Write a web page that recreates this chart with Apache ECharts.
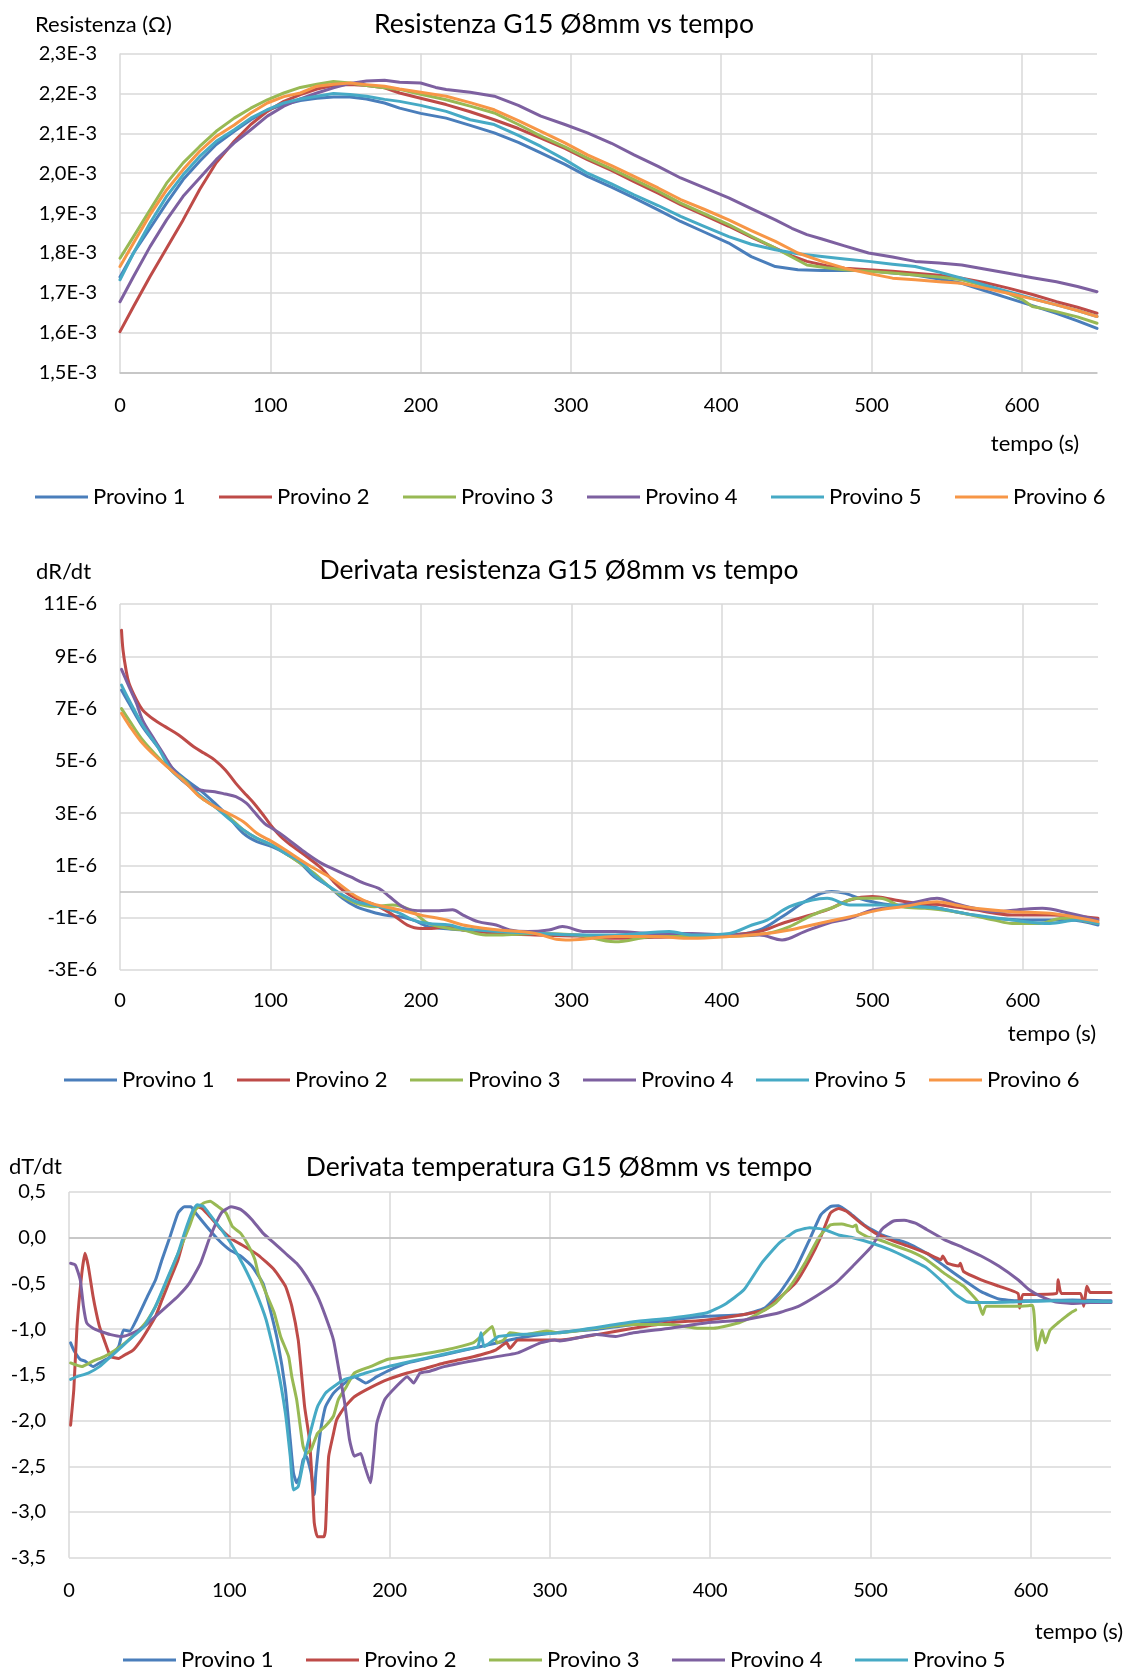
<!DOCTYPE html>
<html>
<head>
<meta charset="utf-8">
<script src="https://cdn.jsdelivr.net/npm/echarts@6/dist/echarts.min.js"></script>
<style>
  html, body { margin: 0; padding: 0; background: #ffffff; }
  #chart { width: 1134px; height: 1674px; }
</style>
</head>
<body>
<div id="chart"></div>
<script>
// Specimen names and their line colours
const provini = ['Provino 1', 'Provino 2', 'Provino 3', 'Provino 4', 'Provino 5', 'Provino 6'];
const colori = ['#4a7ebb', '#be4b48', '#98b954', '#7d60a0', '#46aac5', '#f79646'];

// Time axis ticks (s)
const tempoTicks = [0, 100, 200, 300, 400, 500, 600];

// ---- Resistance vs time: [t (s), R (in units of 1E-3 ohm)] ----
const resistenza1 = [[0,1.740],[9,1.800],[20,1.862],[31,1.925],[42,1.984],[53,2.030],[64,2.072],[76,2.105],[87,2.134],[98,2.158],[109,2.172],[120,2.182],[131,2.188],[142,2.191],[153,2.191],[164,2.186],[176,2.176],[186,2.163],[200,2.150],[217,2.138],[233,2.120],[249,2.101],[265,2.077],[280,2.051],[296,2.022],[311,1.992],[327,1.965],[342,1.938],[358,1.908],[373,1.879],[389,1.852],[405,1.825],[420,1.791],[436,1.766],[451,1.758],[467,1.756],[482,1.756],[498,1.756],[514,1.750],[529,1.745],[545,1.735],[560,1.724],[575,1.706],[591,1.687],[607,1.668],[623,1.649],[637,1.630],[650,1.611]];
const resistenza2 = [[0,1.603],[9,1.666],[20,1.741],[31,1.812],[42,1.883],[53,1.959],[64,2.026],[76,2.080],[87,2.122],[98,2.155],[109,2.180],[120,2.197],[131,2.211],[142,2.220],[153,2.222],[164,2.220],[176,2.214],[186,2.201],[200,2.188],[217,2.172],[233,2.154],[249,2.134],[265,2.112],[280,2.088],[296,2.062],[311,2.034],[327,2.007],[342,1.979],[358,1.950],[373,1.921],[389,1.894],[405,1.867],[420,1.840],[436,1.812],[447,1.793],[457,1.779],[470,1.768],[482,1.762],[498,1.758],[514,1.754],[529,1.749],[545,1.744],[560,1.737],[575,1.726],[591,1.712],[607,1.696],[623,1.678],[637,1.664],[650,1.649]];
const resistenza3 = [[0,1.787],[9,1.841],[20,1.908],[31,1.975],[42,2.026],[53,2.067],[64,2.105],[76,2.138],[87,2.163],[98,2.184],[109,2.201],[120,2.215],[131,2.223],[142,2.230],[153,2.226],[164,2.220],[176,2.214],[186,2.210],[200,2.198],[217,2.184],[233,2.168],[249,2.151],[265,2.122],[280,2.093],[296,2.066],[311,2.038],[327,2.011],[342,1.984],[358,1.955],[373,1.925],[389,1.898],[405,1.871],[420,1.842],[436,1.812],[447,1.790],[457,1.770],[470,1.763],[482,1.758],[498,1.754],[514,1.750],[529,1.745],[545,1.740],[560,1.733],[575,1.718],[591,1.699],[600,1.684],[607,1.666],[615,1.660],[623,1.653],[637,1.640],[650,1.624]];
const resistenza4 = [[0,1.678],[9,1.741],[20,1.816],[31,1.883],[42,1.942],[53,1.988],[64,2.034],[76,2.076],[87,2.109],[98,2.143],[109,2.168],[120,2.186],[131,2.201],[142,2.214],[153,2.225],[164,2.231],[176,2.233],[186,2.228],[200,2.226],[210,2.215],[217,2.210],[233,2.203],[249,2.193],[265,2.170],[280,2.143],[296,2.122],[311,2.101],[327,2.075],[342,2.046],[358,2.017],[373,1.988],[389,1.963],[405,1.938],[420,1.911],[436,1.883],[447,1.862],[457,1.846],[467,1.835],[482,1.818],[498,1.800],[514,1.790],[529,1.779],[545,1.775],[560,1.770],[575,1.760],[591,1.749],[607,1.738],[623,1.728],[637,1.716],[650,1.703]];
const resistenza5 = [[0,1.733],[9,1.800],[20,1.875],[31,1.942],[42,1.996],[53,2.042],[64,2.080],[76,2.109],[87,2.138],[98,2.159],[109,2.176],[120,2.186],[131,2.193],[142,2.200],[153,2.197],[164,2.193],[176,2.185],[186,2.180],[200,2.170],[217,2.155],[233,2.134],[249,2.122],[265,2.095],[280,2.067],[296,2.034],[311,2.000],[327,1.973],[342,1.946],[358,1.919],[373,1.892],[389,1.866],[405,1.841],[420,1.822],[436,1.808],[451,1.798],[467,1.791],[482,1.785],[498,1.779],[514,1.772],[529,1.766],[545,1.752],[560,1.737],[575,1.720],[591,1.703],[607,1.686],[623,1.670],[637,1.656],[650,1.641]];
const resistenza6 = [[0,1.766],[9,1.825],[20,1.896],[31,1.958],[42,2.009],[53,2.055],[64,2.092],[76,2.121],[87,2.151],[98,2.176],[109,2.192],[120,2.201],[131,2.218],[142,2.223],[153,2.226],[164,2.222],[176,2.218],[186,2.211],[200,2.203],[217,2.193],[233,2.177],[249,2.159],[265,2.132],[280,2.105],[296,2.076],[311,2.046],[327,2.019],[342,1.992],[358,1.963],[373,1.934],[389,1.909],[405,1.883],[420,1.856],[436,1.829],[451,1.800],[467,1.779],[482,1.762],[498,1.749],[514,1.737],[529,1.733],[545,1.728],[560,1.724],[575,1.712],[591,1.699],[607,1.685],[623,1.670],[637,1.656],[650,1.641]];

// ---- Resistance derivative: [t (s), dR/dt (in units of 1E-6)] ----
const derivataR1 = [[1,7.71],[6,7.20],[15,6.31],[25,5.54],[34,4.78],[44,4.27],[53,3.89],[63,3.38],[72,2.87],[82,2.23],[91,1.91],[101,1.72],[110,1.46],[120,1.08],[129,0.57],[139,0.19],[148,-0.26],[157,-0.58],[167,-0.77],[176,-0.90],[186,-0.96],[195,-1.09],[205,-1.34],[228,-1.47],[252,-1.53],[276,-1.60],[304,-1.66],[329,-1.72],[355,-1.70],[380,-1.66],[405,-1.66],[425,-1.47],[440,-0.96],[455,-0.39],[466,-0.07],[473,0.00],[482,-0.07],[495,-0.32],[515,-0.51],[530,-0.51],[555,-0.77],[581,-1.02],[606,-1.09],[631,-1.09],[650,-1.28]];
const derivataR2 = [[1,10.0],[2,9.24],[4,8.48],[6,7.97],[11,7.33],[15,6.95],[23,6.56],[30,6.31],[39,5.99],[49,5.54],[56,5.29],[63,5.03],[70,4.65],[77,4.14],[84,3.69],[89,3.38],[96,2.87],[101,2.48],[108,2.04],[115,1.72],[124,1.34],[134,0.89],[141,0.44],[148,0.06],[157,-0.26],[167,-0.45],[176,-0.70],[183,-0.96],[191,-1.28],[200,-1.41],[207,-1.41],[217,-1.34],[228,-1.47],[252,-1.60],[276,-1.66],[304,-1.70],[329,-1.79],[355,-1.75],[380,-1.72],[405,-1.66],[425,-1.53],[440,-1.22],[455,-0.96],[470,-0.70],[485,-0.32],[500,-0.19],[515,-0.32],[530,-0.45],[546,-0.51],[568,-0.70],[593,-0.90],[618,-0.90],[650,-1.02]];
const derivataR3 = [[1,7.00],[6,6.56],[15,5.80],[25,5.16],[34,4.65],[44,4.20],[53,3.63],[63,3.25],[72,2.87],[82,2.36],[91,2.04],[101,1.78],[110,1.46],[120,1.08],[129,0.70],[139,0.19],[148,-0.19],[157,-0.45],[169,-0.58],[181,-0.51],[193,-0.70],[205,-1.22],[219,-1.41],[228,-1.47],[243,-1.66],[252,-1.66],[276,-1.60],[304,-1.66],[329,-1.92],[355,-1.72],[380,-1.72],[405,-1.72],[430,-1.60],[445,-1.34],[460,-0.90],[475,-0.58],[490,-0.26],[505,-0.26],[520,-0.58],[535,-0.64],[555,-0.77],[581,-1.09],[593,-1.22],[611,-1.22],[626,-1.02],[650,-1.22]];
const derivataR4 = [[1,8.50],[6,7.84],[11,7.20],[15,6.56],[23,5.80],[30,5.16],[34,4.78],[41,4.27],[49,3.95],[56,3.86],[63,3.82],[70,3.73],[77,3.63],[84,3.38],[89,3.06],[96,2.61],[101,2.42],[108,2.16],[115,1.85],[124,1.46],[134,1.08],[143,0.83],[153,0.57],[162,0.32],[172,0.12],[179,-0.19],[186,-0.51],[193,-0.70],[200,-0.73],[212,-0.73],[221,-0.70],[228,-0.90],[238,-1.15],[250,-1.28],[259,-1.47],[271,-1.53],[285,-1.47],[294,-1.34],[309,-1.53],[329,-1.53],[355,-1.60],[380,-1.60],[405,-1.66],[425,-1.66],[440,-1.85],[455,-1.53],[470,-1.22],[485,-1.02],[500,-0.70],[515,-0.58],[530,-0.39],[543,-0.26],[555,-0.45],[568,-0.64],[581,-0.77],[596,-0.70],[613,-0.64],[631,-0.83],[650,-1.09]];
const derivataR5 = [[1,7.90],[6,7.33],[15,6.37],[25,5.54],[34,4.65],[44,4.14],[53,3.69],[63,3.25],[72,2.80],[82,2.36],[91,2.04],[101,1.78],[110,1.46],[120,1.14],[129,0.63],[139,0.19],[148,-0.13],[157,-0.39],[167,-0.51],[176,-0.64],[186,-0.83],[195,-1.09],[205,-1.22],[219,-1.28],[228,-1.41],[252,-1.53],[279,-1.60],[304,-1.66],[329,-1.66],[365,-1.53],[380,-1.66],[405,-1.60],[420,-1.28],[430,-1.09],[445,-0.58],[460,-0.32],[470,-0.26],[485,-0.51],[505,-0.51],[530,-0.58],[543,-0.64],[568,-0.90],[593,-1.09],[618,-1.22],[636,-1.09],[650,-1.22]];
const derivataR6 = [[1,6.82],[6,6.37],[15,5.67],[25,5.10],[34,4.65],[44,4.14],[53,3.63],[63,3.25],[72,2.99],[82,2.67],[91,2.23],[101,1.91],[110,1.59],[120,1.21],[129,0.89],[139,0.57],[148,0.19],[157,-0.19],[167,-0.45],[176,-0.58],[186,-0.70],[200,-0.90],[217,-1.09],[228,-1.28],[243,-1.41],[252,-1.47],[276,-1.60],[290,-1.82],[299,-1.85],[329,-1.72],[355,-1.72],[380,-1.79],[405,-1.72],[430,-1.60],[445,-1.47],[460,-1.28],[475,-1.09],[490,-0.90],[505,-0.70],[520,-0.58],[543,-0.39],[555,-0.51],[568,-0.64],[593,-0.77],[618,-0.83],[650,-1.15]];

// ---- Temperature derivative: [t (s), dT/dt] ----
const derivataT1 = [[1,-1.15],[3,-1.23],[7,-1.33],[10,-1.35],[15,-1.41],[19,-1.37],[26,-1.30],[31,-1.19],[34,-1.01],[38,-1.02],[42,-0.90],[49,-0.64],[54,-0.46],[58,-0.24],[63,0.01],[68,0.27],[72,0.34],[76,0.34],[79,0.27],[86,0.12],[93,-0.02],[100,-0.13],[107,-0.20],[114,-0.31],[121,-0.50],[125,-0.75],[130,-1.12],[135,-1.66],[138,-2.21],[140,-2.57],[142,-2.68],[144,-2.61],[146,-2.43],[148,-2.39],[151,-2.57],[153,-2.81],[154,-2.57],[157,-2.10],[160,-1.85],[165,-1.70],[172,-1.59],[178,-1.52],[185,-1.59],[192,-1.52],[201,-1.44],[211,-1.37],[234,-1.28],[257,-1.19],[280,-1.10],[303,-1.04],[330,-1.00],[352,-0.95],[375,-0.90],[398,-0.86],[421,-0.84],[434,-0.77],[443,-0.61],[453,-0.35],[462,-0.02],[469,0.25],[475,0.34],[480,0.35],[487,0.27],[496,0.14],[507,0.03],[523,-0.06],[535,-0.17],[546,-0.31],[558,-0.46],[569,-0.59],[580,-0.67],[592,-0.69],[603,-0.69],[626,-0.68],[650,-0.69]];
const derivataT2 = [[1,-2.05],[3,-1.66],[5,-0.97],[8,-0.39],[10,-0.17],[12,-0.31],[15,-0.64],[17,-0.82],[19,-0.97],[22,-1.12],[26,-1.30],[31,-1.32],[35,-1.28],[40,-1.23],[45,-1.12],[49,-1.01],[54,-0.86],[58,-0.68],[63,-0.46],[68,-0.24],[72,0.01],[77,0.27],[79,0.34],[83,0.32],[88,0.23],[95,0.09],[102,-0.02],[109,-0.09],[118,-0.19],[128,-0.35],[135,-0.53],[139,-0.75],[143,-1.12],[145,-1.48],[147,-1.85],[150,-2.21],[152,-2.76],[153,-3.12],[155,-3.27],[159,-3.27],[160,-3.19],[161,-2.76],[162,-2.39],[165,-2.14],[167,-1.99],[172,-1.85],[178,-1.74],[188,-1.64],[199,-1.55],[211,-1.48],[222,-1.43],[234,-1.37],[245,-1.33],[257,-1.28],[266,-1.23],[273,-1.15],[275,-1.21],[280,-1.12],[292,-1.12],[306,-1.12],[329,-1.06],[352,-0.99],[375,-0.93],[398,-0.90],[421,-0.84],[434,-0.79],[443,-0.66],[453,-0.50],[462,-0.24],[469,0.01],[475,0.27],[480,0.32],[485,0.29],[494,0.16],[503,0.05],[512,-0.02],[523,-0.09],[535,-0.17],[544,-0.24],[545,-0.20],[548,-0.28],[555,-0.31],[556,-0.28],[558,-0.37],[569,-0.46],[580,-0.53],[592,-0.61],[593,-0.77],[595,-0.62],[603,-0.62],[616,-0.61],[617,-0.46],[619,-0.61],[631,-0.61],[633,-0.75],[635,-0.53],[637,-0.60],[650,-0.60]];
const derivataT3 = [[1,-1.37],[8,-1.41],[15,-1.35],[22,-1.30],[28,-1.24],[35,-1.15],[42,-1.04],[49,-0.90],[56,-0.68],[63,-0.39],[70,-0.09],[75,0.12],[79,0.31],[84,0.38],[88,0.40],[93,0.34],[98,0.27],[102,0.12],[107,0.05],[112,-0.09],[116,-0.24],[118,-0.39],[123,-0.61],[128,-0.82],[132,-1.08],[137,-1.30],[139,-1.52],[142,-1.77],[144,-2.03],[146,-2.28],[148,-2.36],[151,-2.32],[155,-2.14],[160,-2.06],[165,-1.95],[168,-1.77],[173,-1.63],[178,-1.48],[188,-1.41],[199,-1.33],[211,-1.30],[234,-1.23],[252,-1.15],[257,-1.08],[264,-0.97],[267,-1.15],[271,-1.12],[275,-1.04],[285,-1.06],[298,-1.02],[306,-1.04],[329,-0.99],[352,-0.95],[375,-0.95],[393,-0.99],[402,-0.99],[418,-0.93],[429,-0.84],[441,-0.71],[450,-0.53],[459,-0.28],[468,0.01],[475,0.14],[482,0.15],[489,0.12],[491,0.14],[492,0.07],[498,0.01],[505,-0.02],[514,-0.08],[525,-0.15],[535,-0.24],[546,-0.39],[558,-0.53],[567,-0.70],[570,-0.84],[572,-0.75],[580,-0.75],[592,-0.75],[601,-0.74],[603,-1.12],[604,-1.23],[607,-1.01],[609,-1.15],[612,-1.01],[617,-0.93],[622,-0.86],[625,-0.82],[628,-0.79]];
const derivataT4 = [[1,-0.28],[4,-0.30],[7,-0.46],[9,-0.75],[11,-0.93],[15,-0.99],[19,-1.02],[26,-1.06],[33,-1.08],[40,-1.04],[47,-0.97],[54,-0.86],[61,-0.75],[68,-0.64],[75,-0.50],[82,-0.28],[88,0.01],[95,0.27],[101,0.34],[107,0.31],[114,0.20],[121,0.05],[128,-0.06],[135,-0.17],[142,-0.28],[148,-0.42],[155,-0.64],[160,-0.86],[165,-1.12],[168,-1.41],[172,-1.81],[175,-2.21],[178,-2.39],[182,-2.36],[184,-2.47],[188,-2.68],[190,-2.39],[192,-2.03],[197,-1.77],[204,-1.63],[211,-1.52],[215,-1.59],[219,-1.48],[225,-1.46],[234,-1.41],[257,-1.33],[280,-1.26],[294,-1.15],[303,-1.12],[306,-1.13],[329,-1.06],[341,-1.08],[352,-1.04],[375,-0.99],[398,-0.93],[421,-0.90],[443,-0.82],[455,-0.75],[466,-0.64],[478,-0.50],[489,-0.31],[501,-0.09],[507,0.09],[514,0.18],[521,0.19],[528,0.16],[535,0.09],[546,-0.02],[558,-0.11],[569,-0.20],[580,-0.31],[592,-0.46],[599,-0.57],[606,-0.64],[615,-0.70],[626,-0.72],[637,-0.71],[650,-0.71]];
const derivataT5 = [[1,-1.55],[5,-1.52],[12,-1.48],[19,-1.41],[26,-1.30],[33,-1.19],[40,-1.08],[47,-0.97],[54,-0.75],[61,-0.46],[68,-0.17],[72,0.05],[77,0.29],[80,0.36],[84,0.34],[88,0.25],[95,0.09],[102,-0.09],[109,-0.31],[116,-0.57],[123,-0.90],[130,-1.41],[135,-1.92],[138,-2.39],[140,-2.76],[143,-2.72],[146,-2.47],[151,-2.10],[155,-1.85],[160,-1.70],[165,-1.63],[172,-1.55],[178,-1.52],[185,-1.48],[199,-1.41],[222,-1.32],[245,-1.23],[255,-1.19],[257,-1.04],[259,-1.19],[268,-1.08],[280,-1.06],[306,-1.04],[352,-0.92],[375,-0.88],[398,-0.82],[409,-0.73],[421,-0.57],[432,-0.28],[443,-0.06],[453,0.07],[462,0.11],[471,0.09],[480,0.03],[489,0.00],[501,-0.06],[512,-0.13],[523,-0.22],[535,-0.33],[546,-0.50],[553,-0.62],[560,-0.70],[569,-0.71],[592,-0.70],[615,-0.69],[650,-0.70]];

const resistenzaSerie = [resistenza1, resistenza2, resistenza3, resistenza4, resistenza5, resistenza6];
const derivataRSerie = [derivataR1, derivataR2, derivataR3, derivataR4, derivataR5, derivataR6];
const derivataTSerie = [derivataT1, derivataT2, derivataT3, derivataT4, derivataT5];

const FONT = 'Lato';
const TXT = '#000000';
const GRID_COL = '#d9d9d9';
const AXIS_COL = '#bfbfbf';
const TICK_SIZE = 20;   // tick labels
const TEXT_SIZE = 22;   // legend, axis names
const TITLE_SIZE = 26.5;

function lineSeries(sets, idx, smooth) {
  return sets.map((d, i) => ({
    type: 'line',
    name: provini[i],
    xAxisIndex: idx,
    yAxisIndex: idx,
    data: d,
    symbol: 'none',
    showSymbol: false,
    smooth: smooth,
    clip: true,
    z: 3,
    itemStyle: { color: colori[i] },
    lineStyle: { color: colori[i], width: 3, cap: 'round', join: 'round' }
  }));
}

// Horizontal axis line through zero, drawn under the curves
function zeroLine(idx) {
  return {
    type: 'line', xAxisIndex: idx, yAxisIndex: idx, data: [], silent: true, z: 2,
    markLine: {
      silent: true, symbol: 'none', animation: false,
      label: { show: false },
      lineStyle: { color: AXIS_COL, width: 1.5, type: 'solid' },
      data: [{ yAxis: 0 }]
    }
  };
}

function xAxisDef(idx, margin, showLine) {
  return {
    type: 'value', gridIndex: idx, min: 0, max: 650, interval: 100,
    axisLine: { show: showLine, onZero: false, lineStyle: { color: AXIS_COL, width: 1.5 } },
    axisTick: { show: false },
    axisLabel: {
      margin: margin, fontFamily: FONT, fontSize: TICK_SIZE, color: TXT,
      showMaxLabel: false,
      formatter: v => (tempoTicks.indexOf(v) >= 0 ? String(v) : '')
    },
    splitLine: { show: true, showMaxLine: false, lineStyle: { color: GRID_COL, width: 1.5 } }
  };
}

function yAxisDef(idx, min, max, interval, fmt) {
  return {
    type: 'value', gridIndex: idx, min: min, max: max, interval: interval,
    axisLine: { show: false }, axisTick: { show: false },
    axisLabel: { margin: 23, fontFamily: FONT, fontSize: TICK_SIZE, color: TXT, formatter: fmt },
    splitLine: { show: true, lineStyle: { color: GRID_COL, width: 1.5 } }
  };
}

function textAt(text, x, y, size, align) {
  return {
    text: text, left: x, top: y, padding: 0,
    textAlign: align, textVerticalAlign: 'middle',
    textStyle: { fontFamily: FONT, fontSize: size, fontWeight: 'normal', color: TXT }
  };
}

function legendRow(names, startX, step, cy) {
  return names.map((n, i) => ({
    data: [n], left: startX + i * step, top: cy - 13, padding: 0, itemGap: 0,
    icon: 'rect', itemWidth: 53, itemHeight: 3,
    selectedMode: false,
    textStyle: { fontFamily: FONT, fontSize: TEXT_SIZE, color: TXT, lineHeight: 26 }
  }));
}

const option = {
  animation: false,
  backgroundColor: '#ffffff',
  title: [
    textAt('Resistenza G15 Ø8mm vs tempo', 564, 24, TITLE_SIZE, 'center'),
    textAt('Resistenza (Ω)', 35, 25, TEXT_SIZE, 'left'),
    textAt('tempo (s)', 1035, 444, TEXT_SIZE, 'center'),
    textAt('Derivata resistenza G15 Ø8mm vs tempo', 559, 570, TITLE_SIZE, 'center'),
    textAt('dR/dt', 36, 572, TEXT_SIZE, 'left'),
    textAt('tempo (s)', 1052, 1034, TEXT_SIZE, 'center'),
    textAt('Derivata temperatura G15 Ø8mm vs tempo', 559, 1167, TITLE_SIZE, 'center'),
    textAt('dT/dt', 9, 1167, TEXT_SIZE, 'left'),
    textAt('tempo (s)', 1079, 1632, TEXT_SIZE, 'center')
  ],
  legend: []
    .concat(legendRow(provini, 35, 184, 497))
    .concat(legendRow(provini, 64, 173, 1080))
    .concat(legendRow(provini.slice(0, 5), 123, 183, 1660)),
  grid: [
    { left: 120, top: 53.5, width: 977, height: 319.2 },
    { left: 120, top: 604, width: 978, height: 366 },
    { left: 69, top: 1192, width: 1042, height: 365.7 }
  ],
  xAxis: [xAxisDef(0, 23, true), xAxisDef(1, 20.5, false), xAxisDef(2, 23, false)],
  yAxis: [
    yAxisDef(0, 1.5, 2.3, 0.1, v => v.toFixed(1).replace('.', ',') + 'E-3'),
    yAxisDef(1, -3, 11, 2, v => Math.round(v) + 'E-6'),
    yAxisDef(2, -3.5, 0.5, 0.5, v => v.toFixed(1).replace('.', ','))
  ],
  series: []
    .concat(lineSeries(resistenzaSerie, 0, false))
    .concat([zeroLine(1)])
    .concat(lineSeries(derivataRSerie, 1, 0.35))
    .concat([zeroLine(2)])
    .concat(lineSeries(derivataTSerie, 2, 0.15))
};

const chart = echarts.init(document.getElementById('chart'), null, { renderer: 'canvas' });
chart.setOption(option);
</script>
</body>
</html>
